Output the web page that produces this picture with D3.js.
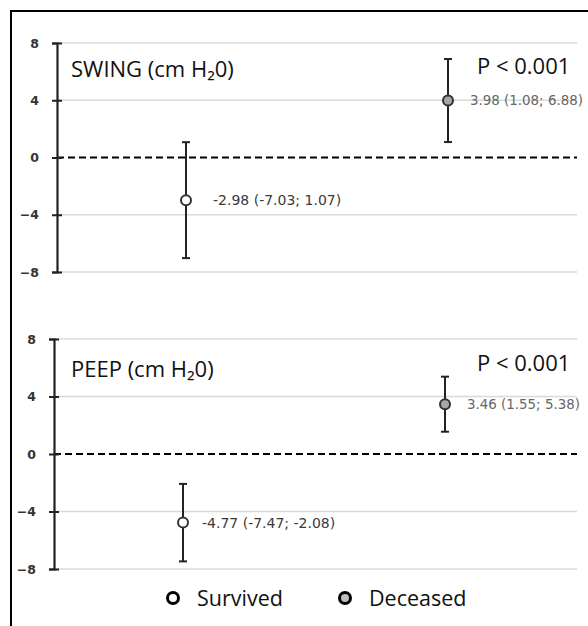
<!DOCTYPE html>
<html>
<head>
<meta charset="utf-8">
<script src="https://cdn.jsdelivr.net/npm/d3@7"></script>
<style>
  body { margin: 0; background: #fff; }
  svg text { font-family: "Open Sans", sans-serif; }
</style>
</head>
<body>
<div id="center"></div>
<script>
// data
const groups = ["Survived", "Deceased"];
const panelTitles = ["SWING (cm H\u20820)", "PEEP (cm H\u20820)"];
const pLabels = ["P < 0.001", "P < 0.001"];
const swingMean = [-2.98, 3.98];
const swingLow = [-7.03, 1.08];
const swingHigh = [1.07, 6.88];
const peepMean = [-4.77, 3.46];
const peepLow = [-7.47, 1.55];
const peepHigh = [-2.08, 5.38];
const yTicks = [8, 4, 0, -4, -8];

const width = 588, height = 626;
const svg = d3.select("#center").append("svg")
    .attr("width", width)
    .attr("height", height);

// frame (only top and left edges visible)
svg.append("path")
    .attr("d", "M11,626 V11 H588")
    .attr("fill", "none")
    .attr("stroke", "#000")
    .attr("stroke-width", 2);

let fill = { "Survived": "#fff", "Deceased": "#a6a6a6" };
let legendFill = { "Survived": "#fff", "Deceased": "#bfbfbf" };
let labelColor = { "Survived": "#3a3a3a", "Deceased": "#666" };

function fmt(v) { return v.toFixed(2); }

function drawPanel(title, pLabel, mean, low, high, top, bottom, axisX, xs, titleY, pY, labelDx) {
    let data = groups.map(function (g, i) {
        return { g: g, m: mean[i], lo: low[i], hi: high[i] };
    });
    let y = d3.scaleLinear().domain([-8, 8]).range([bottom, top]);
    let x = d3.scalePoint().domain(groups).range(xs);
    let g = svg.append("g");

    // gridlines
    g.selectAll(".grid")
        .data(yTicks.filter(function (d) { return d !== 0; }))
        .enter().append("line")
        .attr("x1", axisX).attr("x2", 577)
        .attr("y1", function (d) { return y(d); })
        .attr("y2", function (d) { return y(d); })
        .attr("stroke", "#d9d9d9")
        .attr("stroke-width", 1.5);

    // dashed zero line
    g.append("line")
        .attr("x1", axisX).attr("x2", 577)
        .attr("y1", y(0)).attr("y2", y(0))
        .attr("stroke", "#000")
        .attr("stroke-width", 2)
        .attr("stroke-dasharray", "7,4");

    // y axis
    let axis = g.append("g")
        .attr("transform", "translate(" + axisX + ",0)")
        .call(d3.axisLeft(y).tickValues(yTicks).tickSize(5).tickPadding(13));
    axis.select(".domain").attr("stroke", "#222").attr("stroke-width", 2.2);
    axis.selectAll(".tick line").attr("stroke", "#222").attr("stroke-width", 2).attr("x2", 5).attr("x1", -5);
    axis.selectAll(".tick text")
        .style("font-family", "'DejaVu Sans', sans-serif")
        .attr("font-size", 12.5).attr("font-weight", "bold").attr("fill", "#333");

    // error bars
    let eb = g.selectAll(".eb").data(data).enter().append("g");
    eb.append("line")
        .attr("x1", function (d) { return x(d.g); })
        .attr("x2", function (d) { return x(d.g); })
        .attr("y1", function (d) { return y(d.lo); })
        .attr("y2", function (d) { return y(d.hi); })
        .attr("stroke", "#222").attr("stroke-width", 2);
    ["lo", "hi"].forEach(function (k) {
        eb.append("line")
            .attr("x1", function (d) { return x(d.g) - 4; })
            .attr("x2", function (d) { return x(d.g) + 4; })
            .attr("y1", function (d) { return y(d[k]); })
            .attr("y2", function (d) { return y(d[k]); })
            .attr("stroke", "#222").attr("stroke-width", 2);
    });
    eb.append("circle")
        .attr("cx", function (d) { return x(d.g); })
        .attr("cy", function (d) { return y(d.m); })
        .attr("r", 5)
        .attr("fill", function (d) { return fill[d.g]; })
        .attr("stroke", "#333").attr("stroke-width", 2);
    eb.append("text")
        .attr("x", function (d, i) { return x(d.g) + labelDx[i]; })
        .attr("y", function (d) { return y(d.m); })
        .attr("dy", "0.36em")
        .style("font-family", "'DejaVu Sans', sans-serif")
        .attr("font-size", function (d, i) { return i === 0 ? 14 : 13.4; })
        .attr("fill", function (d) { return labelColor[d.g]; })
        .text(function (d) { return fmt(d.m) + " (" + fmt(d.lo) + "; " + fmt(d.hi) + ")"; });

    // titles
    g.append("text")
        .attr("x", 71).attr("y", titleY)
        .attr("font-size", 22).attr("fill", "#111")
        .text(title);
    g.append("text")
        .attr("x", 477).attr("y", pY)
        .attr("font-size", 22).attr("fill", "#111")
        .text(pLabel);
}

drawPanel(panelTitles[0], pLabels[0], swingMean, swingLow, swingHigh, 43, 272, 57, [186, 448], 77, 74, [27, 22]);
drawPanel(panelTitles[1], pLabels[1], peepMean, peepLow, peepHigh, 339, 569, 54, [183, 445], 377, 371, [19, 22]);

// legend
let legend = svg.append("g").selectAll("g").data(groups).enter().append("g")
    .attr("transform", function (d, i) { return "translate(" + [173, 345][i] + ",598)"; });
legend.append("circle")
    .attr("r", 5.5)
    .attr("fill", function (d) { return legendFill[d]; })
    .attr("stroke", "#000").attr("stroke-width", 3);
legend.append("text")
    .attr("x", 24).attr("y", 8)
    .attr("font-size", 21.5).attr("fill", "#111")
    .text(function (d) { return d; });
</script>
</body>
</html>
